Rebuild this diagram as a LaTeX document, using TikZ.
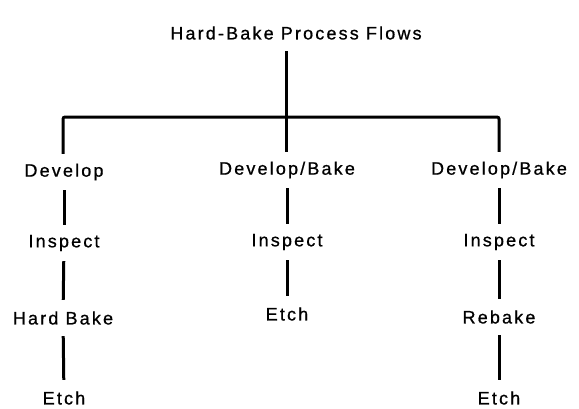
\documentclass[tikz,border=0pt]{standalone}
\usepackage{fontspec}
\setmainfont[LetterSpace=12, FakeBold=0.8]{Liberation Sans}
\usetikzlibrary{positioning}

\begin{document}
\begin{tikzpicture}[x=1pt, y=-1pt,
    every node/.style={font=\fontsize{18}{20}\selectfont, inner sep=0pt, minimum height=36pt},
    link/.style={line width=3pt}]
        \useasboundingbox (0,0) rectangle (579,408);

        \node (title) at (296,33) {Hard-Bake Process Flows};
        \coordinate (split) at (286,117);

        % left flow
        \node (devA) at (64,172) {Develop};
        \node (inspA) at (64,243) {Inspect};
        \node (bakeA) at (63,318) {Hard Bake};
        \node (etchA) at (64,398) {Etch};

        % middle flow
        \node (devB) at (287,170) {Develop/Bake};
        \node (inspB) at (287,242) {Inspect};
        \node (etchB) at (287,314) {Etch};

        % right flow
        \node (devC) at (499,170) {Develop/Bake};
        \node (inspC) at (499,242) {Inspect};
        \node (rebakeC) at (499,317) {Rebake};
        \node (etchC) at (499,398) {Etch};

        % tree
        \draw[link] (split |- title.south) -- (split) -- (split |- devB.north);
        \draw[link, rounded corners=2pt] (devA.north -| 63,0) |- (split) -| (devC);

        % steps
        \foreach \a/\b in {devA/inspA,inspA/bakeA,bakeA/etchA,devB/inspB,inspB/etchB,devC/inspC,inspC/rebakeC,rebakeC/etchC}
            \draw[link] (\a) -- (\b);
    \end{tikzpicture}
\end{document}
